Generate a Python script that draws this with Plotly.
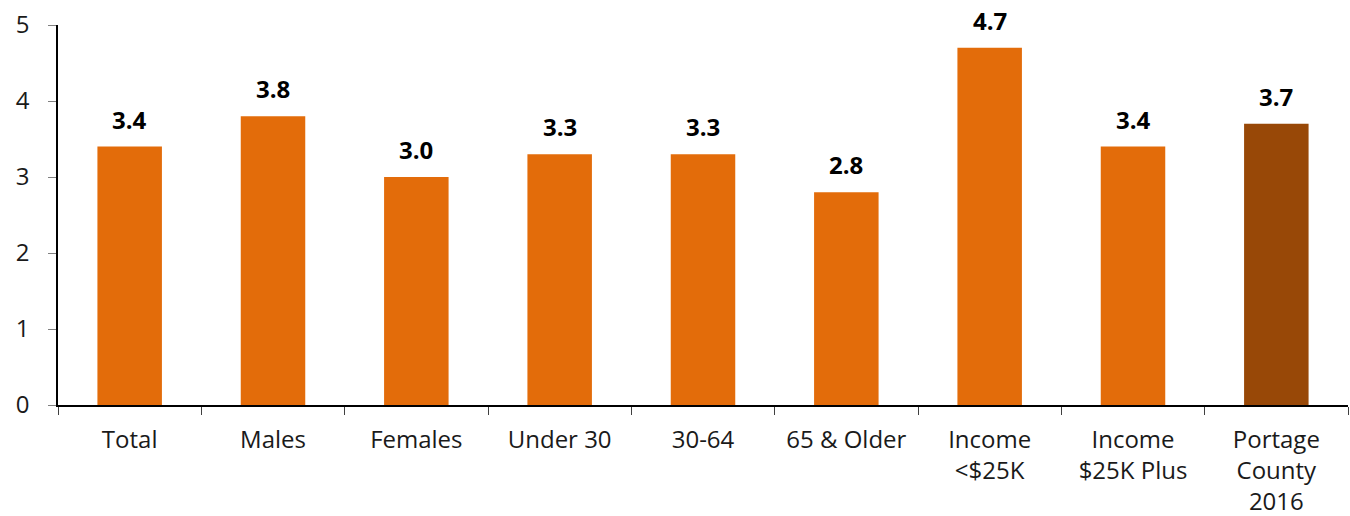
import plotly.graph_objects as go

categories = ["Total", "Males", "Females", "Under 30", "30-64", "65 & Older",
              "Income<br><$25K", "Income<br>$25K Plus", "Portage<br>County<br>2016"]
values = [3.4, 3.8, 3.0, 3.3, 3.3, 2.8, 4.7, 3.4, 3.7]
bar_colors = ["#E36C0A"] * 8 + ["#984807"]
y_ticks = [0, 1, 2, 3, 4, 5]

FONT = "Open Sans, Noto Sans, sans-serif"

fig = go.Figure()
fig.add_trace(go.Bar(
    x=categories,
    y=values,
    marker=dict(color=bar_colors, line=dict(width=0)),
    width=0.45,
    hoverinfo="skip",
))

# bold value labels above each bar
for cat, val in zip(categories, values):
    fig.add_annotation(
        x=cat, y=val, text=f"<b>{val:.1f}</b>",
        showarrow=False, yanchor="bottom", yshift=9,
        font=dict(family=FONT, size=24, color="#000000"),
    )

fig.update_layout(
    width=1350, height=516,
    margin=dict(l=58, r=2, t=25, b=111),
    paper_bgcolor="white", plot_bgcolor="white",
    showlegend=False,
    font=dict(family=FONT, size=24, color="#1a1a1a"),
    xaxis=dict(
        type="category",
        tickson="boundaries",
        ticks="outside", ticklen=8, tickcolor="#404040", tickwidth=1,
        showline=True, linecolor="#000000", linewidth=1.5,
        showgrid=False,
        tickfont=dict(family=FONT, size=24, color="#1a1a1a"),
        ticklabelstandoff=12,
        automargin=False,
    ),
    yaxis=dict(
        range=[0, 5],
        tickvals=y_ticks,
        ticks="outside", ticklen=8, tickcolor="#808080", tickwidth=1,
        showline=True, linecolor="#000000", linewidth=1.5,
        showgrid=False, zeroline=False,
        tickfont=dict(family=FONT, size=24, color="#1a1a1a"),
        ticklabelstandoff=14,
        automargin=False,
    ),
)

fig.write_html("out.html")
